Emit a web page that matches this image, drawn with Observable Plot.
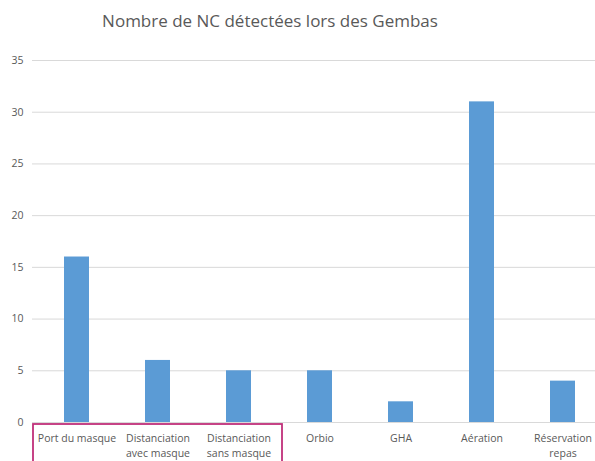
<!DOCTYPE html>
<html>
<head>
<meta charset="utf-8">
<script src="https://cdn.jsdelivr.net/npm/d3@7"></script>
<script src="https://cdn.jsdelivr.net/npm/@observablehq/plot@0.6"></script>
<style>
html, body { margin: 0; padding: 0; overflow: hidden; background: #fff; width: 595px; height: 461px; }
#title { height: 45px; position: relative; font-family: "Open Sans", sans-serif; }
#title span { position: absolute; left: 270px; top: 9px; transform: translateX(-50%); white-space: nowrap; font-size: 17px; color: #595959; }
#chart svg { max-width: none !important; }
</style>
</head>
<body>
<div id="title"><span>Nombre de NC détectées lors des Gembas</span></div>
<div id="chart"></div>
<script>
const categories = ["Port du masque", "Distanciation\navec masque", "Distanciation\nsans masque", "Orbio", "GHA", "Aération", "Réservation\nrepas"];
const values = [16, 6, 5, 5, 2, 31, 4];
const yTicks = [0, 5, 10, 15, 20, 25, 30, 35];
const data = categories.map((c, i) => ({category: c, value: values[i]}));

const chart = Plot.plot({
  width: 610,
  height: 416,
  marginLeft: 35,
  marginRight: 5,
  marginTop: 15,
  marginBottom: 39,
  style: {fontFamily: "Open Sans, sans-serif", fontSize: "10.5px", color: "#595959", background: "transparent", overflow: "visible", maxWidth: "none"},
  x: {domain: categories, paddingInner: 0.69, paddingOuter: 0.345, label: null},
  y: {domain: [0, 35], label: null},
  marks: [
    Plot.gridY(yTicks, {stroke: "#d9d9d9", strokeOpacity: 1, insetLeft: -3}),
    Plot.barY(data, {x: "category", y: "value", fill: "#5b9bd5"}),
    Plot.axisY(yTicks, {tickSize: 0, tickPadding: 12, fill: "#595959", fontSize: 10.5, label: null}),
    Plot.axisX({tickSize: 0, tickPadding: 8, lineHeight: 1.5, fill: "#595959", fontSize: 10.5, label: null, textAnchor: "middle"})
  ]
});
document.getElementById("chart").appendChild(chart);

// annotation box around the first three category labels, positioned via the scales
const xs = chart.scale("x");
const ys = chart.scale("y");
const bw = xs.bandwidth;
const stepW = xs.step;
const c0 = xs.apply(categories[0]) + bw / 2;
const c2 = xs.apply(categories[2]) + bw / 2;
const boxLeft = c0 - stepW / 2 - 3;
const boxRight = c2 + stepW / 2 + 3;
const boxTop = ys.apply(0) + 2;
d3.select(chart).append("rect")
  .attr("x", boxLeft).attr("y", boxTop)
  .attr("width", boxRight - boxLeft).attr("height", 60)
  .attr("fill", "none").attr("stroke", "#c0307a").attr("stroke-width", 1.8);
</script>
</body>
</html>
